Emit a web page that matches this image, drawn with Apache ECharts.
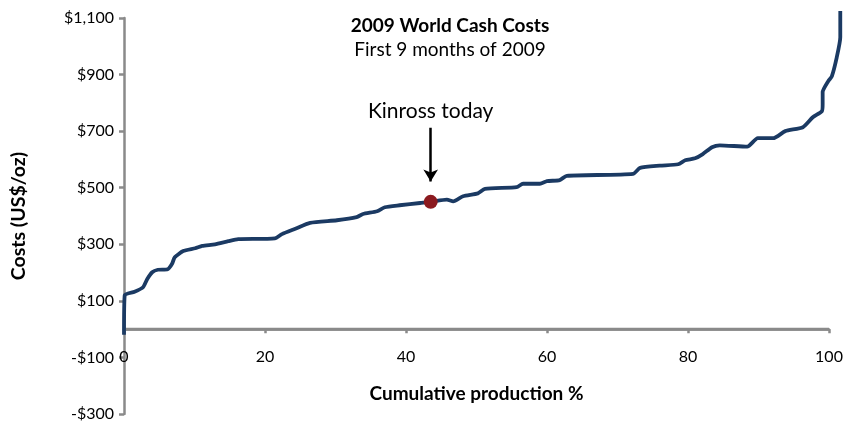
<!DOCTYPE html>
<html>
<head>
<meta charset="utf-8">
<script src="https://cdn.jsdelivr.net/npm/echarts@6/dist/echarts.min.js"></script>
<style>
  html, body { margin: 0; padding: 0; background: #fff; }
  #main { width: 843px; height: 423px; }
</style>
</head>
<body>
<div id="main"></div>
<script>
// cumulative production % (x) and cash cost US$/oz (y)
var costX = [0, 0.1, 1.5, 2.7, 3.3, 4.0, 4.8, 6.2, 6.8, 7.2, 8.4, 10.1, 11.1, 12.9, 14.8, 16.2,
  21.4, 22.4, 24.3, 26.4, 30.2, 33.0, 33.9, 35.9, 37.0, 39.1, 42.0, 43.5, 45.8, 46.7, 48.1,
  50.2, 51.2, 55.7, 56.6, 59.0, 60.0, 61.8, 62.8, 72.2, 73.2, 76.0, 78.6, 79.6, 81.0, 82.1,
  83.4, 84.5, 88.4, 89.9, 92.1, 93.8, 96.3, 97.7, 99.0, 99.1, 99.1, 99.9, 100.4, 101.1, 101.6, 101.6];
var costY = [-20, 120, 132, 148, 177, 201, 210, 212, 230, 254, 276, 286, 294, 300, 311, 318,
  321, 336, 355, 376, 385, 396, 407, 417, 431, 438, 446, 450, 458, 452, 470,
  480, 496, 502, 514, 514, 523, 527, 542, 549, 570, 578, 583, 597, 604, 619,
  643, 650, 645, 675, 675, 700, 714, 749, 771, 795, 838, 877, 894, 961, 1032, 1125];

var kinross = [43.5, 450];
var arrowFrom = [43.5, 712];
var arrowTo = [43.5, 522];
var labelPos = [43.5, 770];

var xTicks = { min: 0, max: 100, interval: 20 };
var yTicks = { min: -300, max: 1100, interval: 200 };

var curve = costX.map(function (x, i) { return [x, costY[i]]; });

var font = 'Lato, "Open Sans", sans-serif';
var axisGrey = '#8a8a8a';

// plot box of the visible axes (px), the drawing grid is a bit larger so the
// curve can run past the axis ends like in the original
var box = { left: 124, right: 14, top: 18, bottom: 9, width: 843 - 124 - 14, height: 423 - 18 - 9 };
var xPerPx = (xTicks.max - xTicks.min) / box.width;
var yPerPx = (yTicks.max - yTicks.min) / box.height;
var zeroFromBottom = box.bottom + (0 - yTicks.min) / yPerPx;

var myChart = echarts.init(document.getElementById('main'));

var hiddenAxis = { show: false, type: 'value', splitLine: { show: false } };

var option = {
    animation: false,
    title: {
        text: '2009 World Cash Costs',
        subtext: 'First 9 months of 2009',
        left: 445,
        top: 11,
        textAlign: 'center',
        itemGap: 5,
        textStyle: { fontFamily: font, fontSize: 19, fontWeight: 'bold', color: '#000' },
        subtextStyle: { fontFamily: font, fontSize: 19, color: '#000' }
    },
    grid: [
        // drawing grid
        { left: box.left, right: 0, top: 0, bottom: box.bottom, outerBoundsMode: 'none', containLabel: false },
        // y axis grid
        { left: box.left, right: box.right, top: box.top, bottom: box.bottom, outerBoundsMode: 'none', containLabel: false },
        // x axis grid, its bottom sits on the zero line
        { left: box.left, right: box.right, top: box.top, bottom: zeroFromBottom, outerBoundsMode: 'none', containLabel: false }
    ],
    xAxis: [
        Object.assign({}, hiddenAxis, { gridIndex: 0, min: xTicks.min, max: xTicks.max + box.right * xPerPx }),
        Object.assign({}, hiddenAxis, { gridIndex: 1, min: xTicks.min, max: xTicks.max }),
        {
            gridIndex: 2,
            type: 'value',
            min: xTicks.min,
            max: xTicks.max,
            interval: xTicks.interval,
            name: 'Cumulative production %',
            nameLocation: 'middle',
            nameGap: 55,
            nameTextStyle: { fontFamily: font, fontSize: 19, fontWeight: 'bold', color: '#000' },
            splitLine: { show: false },
            axisLine: { show: true, onZero: false, lineStyle: { color: axisGrey, width: 2.5 } },
            axisTick: { show: true, length: 4, lineStyle: { color: axisGrey, width: 2.5 } },
            axisLabel: { margin: 20, fontFamily: font, fontSize: 16, color: '#000' }
        }
    ],
    yAxis: [
        Object.assign({}, hiddenAxis, { gridIndex: 0, min: yTicks.min, max: yTicks.max + box.top * yPerPx }),
        {
            gridIndex: 1,
            type: 'value',
            min: yTicks.min,
            max: yTicks.max,
            interval: yTicks.interval,
            name: 'Costs (US$/oz)',
            nameLocation: 'middle',
            nameGap: 95,
            nameTextStyle: { fontFamily: font, fontSize: 19.5, fontWeight: 'bold', color: '#000' },
            splitLine: { show: false },
            axisLine: { show: true, onZero: false, lineStyle: { color: axisGrey, width: 2.5 } },
            axisTick: { show: true, length: 5, lineStyle: { color: axisGrey, width: 2.5 } },
            axisLabel: {
                margin: 10,
                fontFamily: font,
                fontSize: 16,
                color: '#000',
                formatter: function (v) {
                    var s = '$' + Math.abs(v).toLocaleString('en-US');
                    return v < 0 ? '-' + s : s;
                }
            }
        },
        Object.assign({}, hiddenAxis, { gridIndex: 2, min: 0, max: yTicks.max })
    ],
    series: [
        {
            // zero line (the x axis line itself)
            type: 'line',
            xAxisIndex: 0,
            yAxisIndex: 0,
            data: [[xTicks.min, 0], [xTicks.max, 0]],
            showSymbol: false,
            silent: true,
            clip: false,
            z: 1,
            lineStyle: { color: axisGrey, width: 3 }
        },
        {
            type: 'line',
            xAxisIndex: 0,
            yAxisIndex: 0,
            data: curve,
            clip: false,
            smooth: 0.2,
            showSymbol: false,
            z: 3,
            lineStyle: { color: '#1b3a63', width: 3.8 },
            markLine: {
                silent: true,
                symbol: ['none', 'arrow'],
                symbolSize: [11, 12],
                lineStyle: { color: '#000', width: 2.5, type: 'solid' },
                label: { show: false },
                data: [[{ coord: arrowFrom }, { coord: arrowTo }]]
            },
            markPoint: {
                silent: true,
                symbol: 'circle',
                symbolSize: 0,
                label: {
                    show: true,
                    formatter: 'Kinross today',
                    fontFamily: font,
                    fontSize: 21,
                    color: '#000'
                },
                data: [{ coord: labelPos }]
            }
        },
        {
            type: 'scatter',
            xAxisIndex: 0,
            yAxisIndex: 0,
            data: [kinross],
            symbolSize: 14,
            itemStyle: { color: '#8b1a1f', opacity: 1 },
            z: 5
        }
    ]
};

myChart.setOption(option);
</script>
</body>
</html>
